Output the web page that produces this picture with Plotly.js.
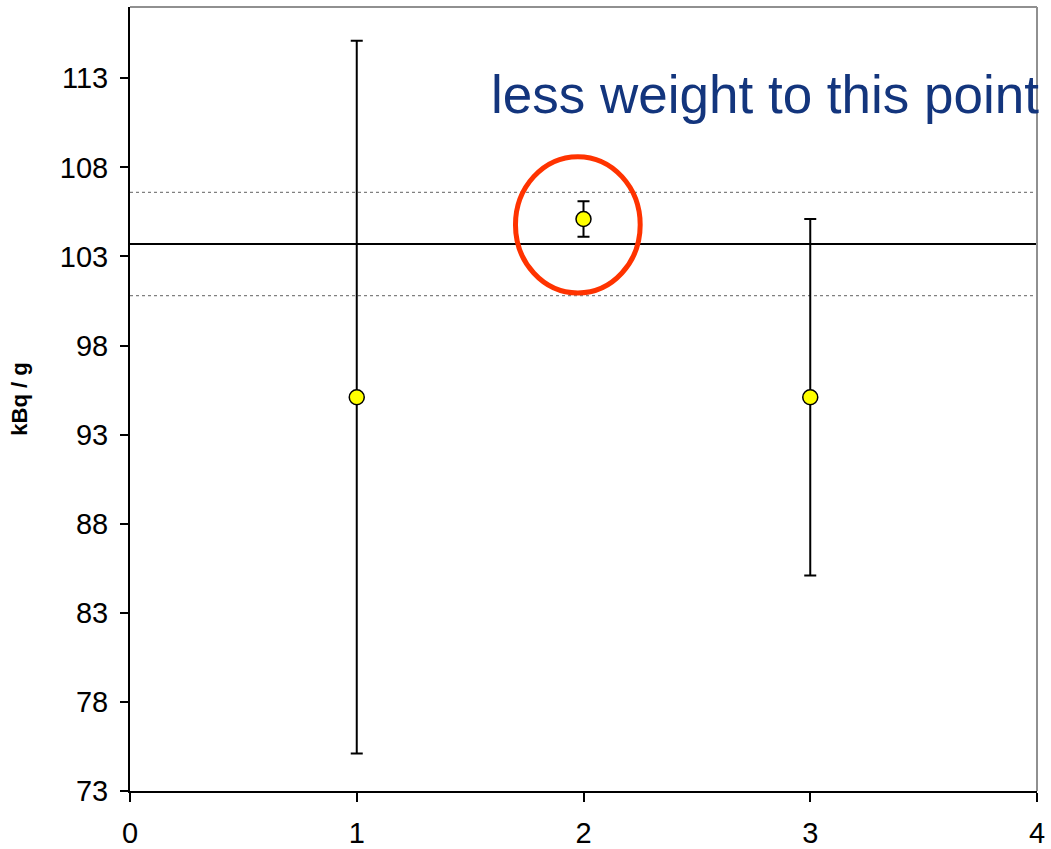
<!DOCTYPE html>
<html>
<head>
<meta charset="utf-8">
<script src="https://cdn.plot.ly/plotly-3.0.1.min.js"></script>
<style>
  html, body { margin: 0; padding: 0; background: #ffffff; }
  #chart { width: 1051px; height: 849px; }
</style>
</head>
<body>
<div id="chart"></div>
<script>
// Measurements (kBq / g) with their uncertainties
const labIndex = [1, 2, 3];
const activity = [95.1, 105.1, 95.1];
const uncertainty = [20, 1.0, 10];

// Weighted mean and its uncertainty band
const meanValue = [103.7];
const meanBand = [2.9];

// Highlighted point region (circle bounds in axis units)
const circleX = [1.70, 2.25];
const circleY = [100.95, 108.6];

const xTicks = [0, 1, 2, 3, 4];
const yTicks = [73, 78, 83, 88, 93, 98, 103, 108, 113];

const noteText = ['less weight to this point'];

const traces = [{
  type: 'scatter',
  mode: 'markers',
  x: labIndex,
  y: activity,
  error_y: {
    type: 'data',
    array: uncertainty,
    visible: true,
    color: '#000000',
    thickness: 2,
    width: 6
  },
  marker: {
    size: 15,
    color: '#FFFF00',
    line: { color: '#000000', width: 1.5 }
  },
  hoverinfo: 'x+y',
  showlegend: false
}];

const shapes = [
  // mean line
  { type: 'line', xref: 'paper', yref: 'y', x0: 0, x1: 1,
    y0: meanValue[0], y1: meanValue[0],
    line: { color: '#000000', width: 2 }, layer: 'below' },
  // upper band
  { type: 'line', xref: 'paper', yref: 'y', x0: 0, x1: 1,
    y0: meanValue[0] + meanBand[0], y1: meanValue[0] + meanBand[0],
    line: { color: '#808080', width: 1.2, dash: 'dot' }, layer: 'below' },
  // lower band
  { type: 'line', xref: 'paper', yref: 'y', x0: 0, x1: 1,
    y0: meanValue[0] - meanBand[0], y1: meanValue[0] - meanBand[0],
    line: { color: '#808080', width: 1.2, dash: 'dot' }, layer: 'below' },
  // frame top and right
  { type: 'line', xref: 'paper', yref: 'paper', x0: 0, x1: 1, y0: 1, y1: 1,
    line: { color: '#909090', width: 2 } },
  { type: 'line', xref: 'paper', yref: 'paper', x0: 1, x1: 1, y0: 0, y1: 1,
    line: { color: '#909090', width: 2 } },
  // highlight circle
  { type: 'circle', xref: 'x', yref: 'y',
    x0: circleX[0], x1: circleX[1], y0: circleY[0], y1: circleY[1],
    line: { color: '#FF3300', width: 5 } }
];

const layout = {
  width: 1051,
  height: 849,
  margin: { l: 130, r: 14, t: 7, b: 58 },
  paper_bgcolor: '#ffffff',
  plot_bgcolor: '#ffffff',
  font: { family: 'Liberation Sans, Arial, sans-serif', color: '#000000' },
  xaxis: {
    range: [0, 4],
    tickvals: xTicks,
    ticktext: xTicks.map(String),
    showgrid: false,
    zeroline: false,
    showline: true,
    linecolor: '#000000',
    linewidth: 2,
    ticks: 'outside',
    ticklen: 9,
    tickwidth: 2,
    tickcolor: '#000000',
    ticklabelstandoff: 6,
    tickfont: { size: 29, color: '#000000' }
  },
  yaxis: {
    range: [73, 117],
    tickvals: yTicks,
    ticktext: yTicks.map(String),
    showgrid: false,
    zeroline: false,
    showline: true,
    linecolor: '#000000',
    linewidth: 2,
    ticks: 'outside',
    ticklen: 8,
    tickwidth: 2,
    tickcolor: '#000000',
    ticklabelstandoff: 6,
    tickfont: { size: 29, color: '#000000' },
    title: {
      text: '<b>kBq / g</b>',
      font: { size: 22, color: '#000000' },
      standoff: 26
    }
  },
  shapes: shapes,
  annotations: [{
    xref: 'x', yref: 'y',
    x: 1.585, y: 112.1,
    xanchor: 'left', yanchor: 'middle',
    text: noteText[0],
    showarrow: false,
    font: { size: 53, color: '#13357D', family: 'Liberation Sans, Arial, sans-serif' }
  }]
};

Plotly.newPlot('chart', traces, layout, { displayModeBar: false, staticPlot: true });
</script>
</body>
</html>
